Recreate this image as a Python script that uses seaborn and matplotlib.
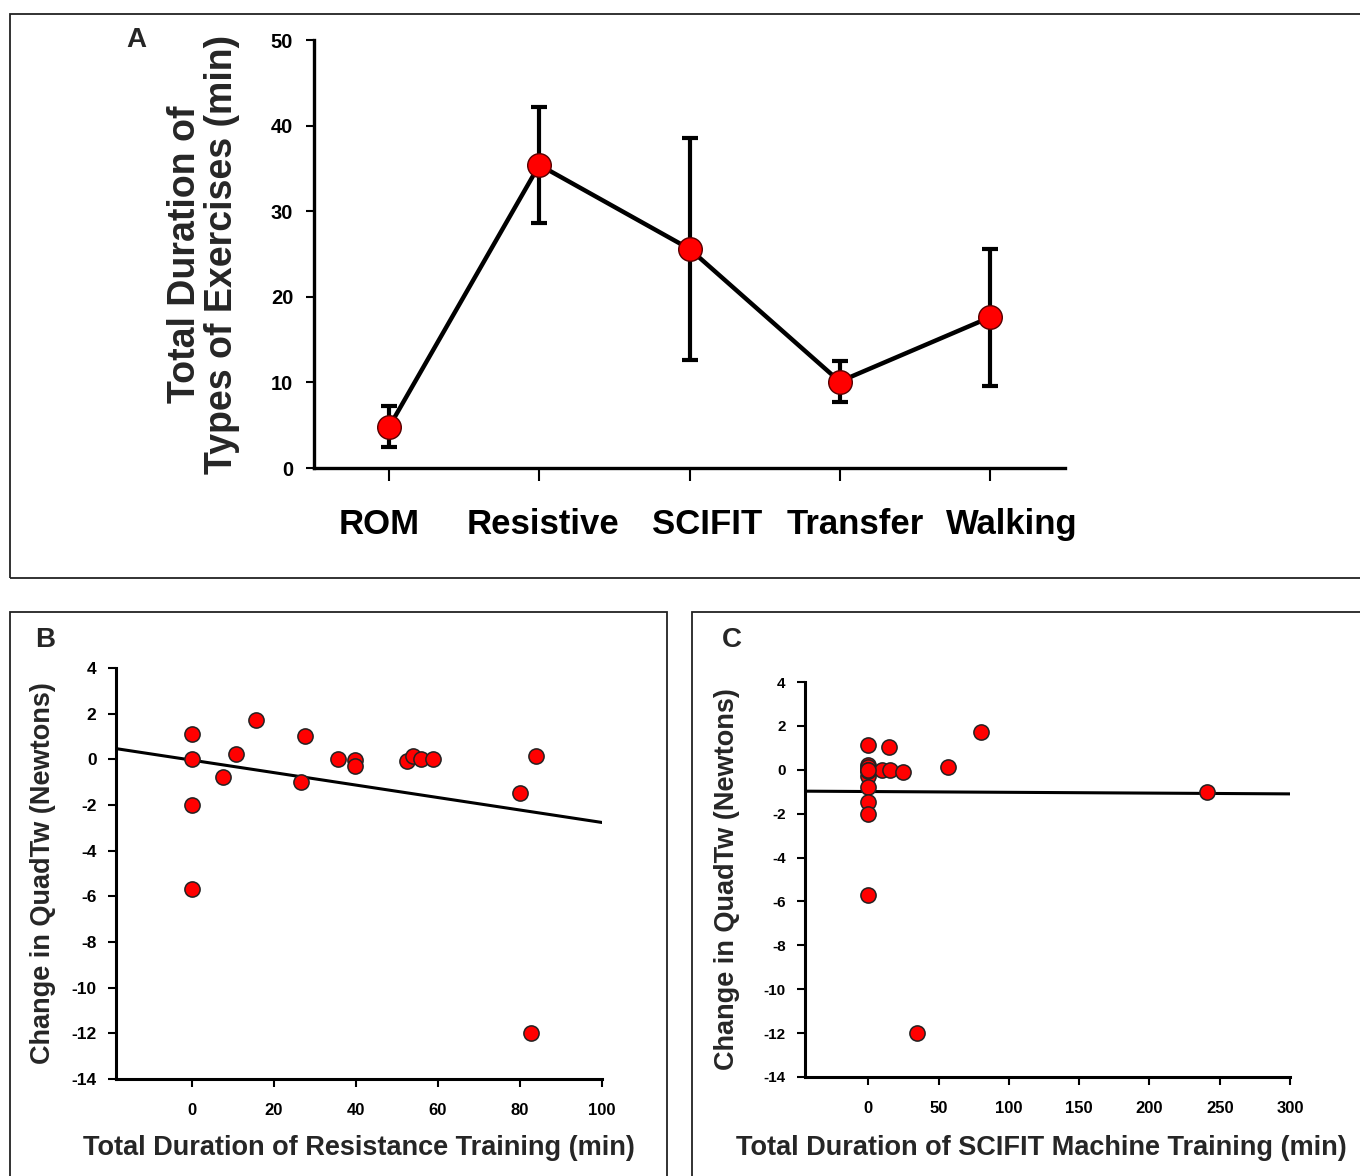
import matplotlib
matplotlib.use("Agg")
import matplotlib.pyplot as plt
from matplotlib.patches import Rectangle
from matplotlib.transforms import ScaledTranslation
import numpy as np
import seaborn as sns

# ---------------- data ----------------
exercise_types = ["ROM", "Resistive", "SCIFIT", "Transfer", "Walking"]
exercise_mean = [4.8, 35.4, 25.6, 10.1, 17.6]
exercise_err = [2.4, 6.8, 13.0, 2.35, 8.0]

resist_minutes = [0, 0, 0, 0, 7.6, 10.7, 15.7, 26.7, 27.7, 35.7, 39.8, 39.8,
                  52.5, 53.8, 55.8, 58.9, 79.9, 83.8, 82.8]
resist_change = [1.12, 0.0, -2.0, -5.7, -0.79, 0.22, 1.71, -0.99, 1.02, 0.01,
                 -0.04, -0.28, -0.09, 0.13, 0.01, 0.01, -1.47, 0.13, -12.0]

scifit_minutes = [0, 0, 0, 0, 0, 0, 0, 0, 0, 0, 14.4, 79.9, 56.9, 9.7, 15.2,
                  24.6, 34.6, 241.0, 0]
scifit_change = [1.12, 0.22, 0.13, 0.01, -0.28, -0.79, -1.47, -2.0, -5.7, -0.04,
                 1.02, 1.71, 0.13, 0.0, 0.01, -0.09, -12.0, -0.99, 0.01]

a_yticks = [0, 10, 20, 30, 40, 50]
b_xticks = [0, 20, 40, 60, 80, 100]
c_xticks = [0, 50, 100, 150, 200, 250, 300]
bc_yticks = [-14, -12, -10, -8, -6, -4, -2, 0, 2, 4]

# horizontal nudges (pixels) of the category labels in panel A
a_label_shift_px = [-10, 4, 18, 16, 22]

# ---------------- style ----------------
sns.set_theme(style="ticks")
plt.rcParams["font.family"] = ["Liberation Sans", "DejaVu Sans"]
plt.rcParams["font.weight"] = "bold"

W, H = 1360, 1176
fig = plt.figure(figsize=(W / 100, H / 100), dpi=100)
fig.patch.set_facecolor("white")


def px_axes(left, top, right, bottom):
    return fig.add_axes([left / W, 1 - bottom / H, (right - left) / W, (bottom - top) / H])


# panel boxes
for (l, t, r, b) in [(10, 14, 1362, 578), (10, 612, 667, 1180), (692, 612, 1362, 1180)]:
    fig.add_artist(Rectangle((l / W, 1 - b / H), (r - l) / W, (b - t) / H,
                             transform=fig.transFigure, fill=False,
                             edgecolor="#222222", linewidth=1.3))

# ---------------- Panel A ----------------
axA = px_axes(314, 40, 1065, 468)
pos = np.arange(len(exercise_types))
axA.errorbar(pos, exercise_mean, yerr=exercise_err, fmt="none", ecolor="black",
             elinewidth=3, capsize=6, capthick=3, zorder=2)
sns.lineplot(x=pos, y=exercise_mean, ax=axA, color="black", linewidth=3.2,
             marker="o", markersize=17, markerfacecolor="#ff0000",
             markeredgecolor="#550000", markeredgewidth=1, zorder=3)
axA.set_xlim(-0.5, 4.5)
axA.set_ylim(0, 50)
axA.set_xticks(pos)
axA.set_xticklabels(exercise_types, fontsize=25, fontweight="bold")
axA.set_yticks(a_yticks)
axA.set_yticklabels([str(v) for v in a_yticks], fontsize=14.5, fontweight="bold")
axA.tick_params(axis="x", direction="out", length=9, width=1.5, pad=20, colors="black")
axA.tick_params(axis="y", direction="out", length=6, width=1.5, pad=9, colors="black")
axA.set_ylabel("Total Duration of\nTypes of Exercises (min)", fontsize=27,
               fontweight="bold", linespacing=1.05)
axA.yaxis.label.set_rotation_mode("default")
axA.yaxis.label.set_va("center")
axA.yaxis.label.set_ha("center")
axA.yaxis.set_label_coords(-0.147, 0.5)
for s in ["top", "right"]:
    axA.spines[s].set_visible(False)
for s in ["left", "bottom"]:
    axA.spines[s].set_linewidth(2.4)
    axA.spines[s].set_color("black")
axA.set_facecolor("white")
fig.text(136 / W, 1 - 40 / H, "A", fontsize=20, fontweight="bold", ha="center", va="center")


def scatter_panel(ax, xs, ys, xlim, xticks, xlabel, ylabel, ylab_x, xlab_x, xlab_y, ytick_fs):
    ax.set_xlim(*xlim)
    ax.set_ylim(-14, 4)
    sns.regplot(x=xs, y=ys, ax=ax, scatter=False, ci=None, truncate=False,
                line_kws=dict(color="black", linewidth=2.2, zorder=2))
    sns.scatterplot(x=xs, y=ys, ax=ax, color="#ff0000", edgecolor="#222222",
                    linewidth=1.1, s=120, zorder=3, legend=False)
    ax.set_xlim(*xlim)
    ax.set_ylim(-14, 4)
    ax.set_xticks(xticks)
    ax.set_xticklabels([str(v) for v in xticks], fontsize=12, fontweight="bold")
    ax.set_yticks(bc_yticks)
    ax.set_yticklabels([str(v) for v in bc_yticks], fontsize=ytick_fs, fontweight="bold")
    ax.tick_params(axis="x", direction="out", length=6, width=1.5, pad=11, colors="black")
    ax.tick_params(axis="y", direction="out", length=6, width=1.5, pad=8, colors="black")
    ax.set_xlabel(xlabel, fontsize=19.5, fontweight="bold")
    ax.xaxis.label.set_va("center")
    ax.xaxis.set_label_coords(xlab_x, xlab_y)
    ax.set_ylabel(ylabel, fontsize=19.5, fontweight="bold")
    ax.yaxis.label.set_rotation_mode("default")
    ax.yaxis.label.set_va("center")
    ax.yaxis.label.set_ha("center")
    ax.yaxis.set_label_coords(ylab_x, 0.5)
    for s in ["top", "right"]:
        ax.spines[s].set_visible(False)
    for s in ["left", "bottom"]:
        ax.spines[s].set_linewidth(2.2)
        ax.spines[s].set_color("black")
    ax.set_facecolor("white")


# ---------------- Panel B ----------------
axB = px_axes(116, 668, 602, 1079)
scatter_panel(axB, resist_minutes, resist_change, (-18.5, 100), b_xticks,
              "Total Duration of Resistance Training (min)",
              "Change in QuadTw (Newtons)", -0.150, 0.5, -0.168, 12.5)
fig.text(45 / W, 1 - 640 / H, "B", fontsize=20, fontweight="bold", ha="center", va="center")

# ---------------- Panel C ----------------
axC = px_axes(805, 682, 1290, 1077)
scatter_panel(axC, scifit_minutes, scifit_change, (-45, 300), c_xticks,
              "Total Duration of SCIFIT Machine Training (min)",
              "Change in QuadTw (Newtons)", -0.161, 0.488, -0.18, 11)
fig.text(732 / W, 1 - 640 / H, "C", fontsize=20, fontweight="bold", ha="center", va="center")

# nudge panel A category labels (after ticks exist)
fig.canvas.draw()
for tick, dx in zip(axA.xaxis.get_major_ticks(), a_label_shift_px):
    lab = tick.label1
    lab.set_transform(lab.get_transform() + ScaledTranslation(dx / 100, 0, fig.dpi_scale_trans))

fig.savefig("out.png", dpi=100, facecolor="white")
